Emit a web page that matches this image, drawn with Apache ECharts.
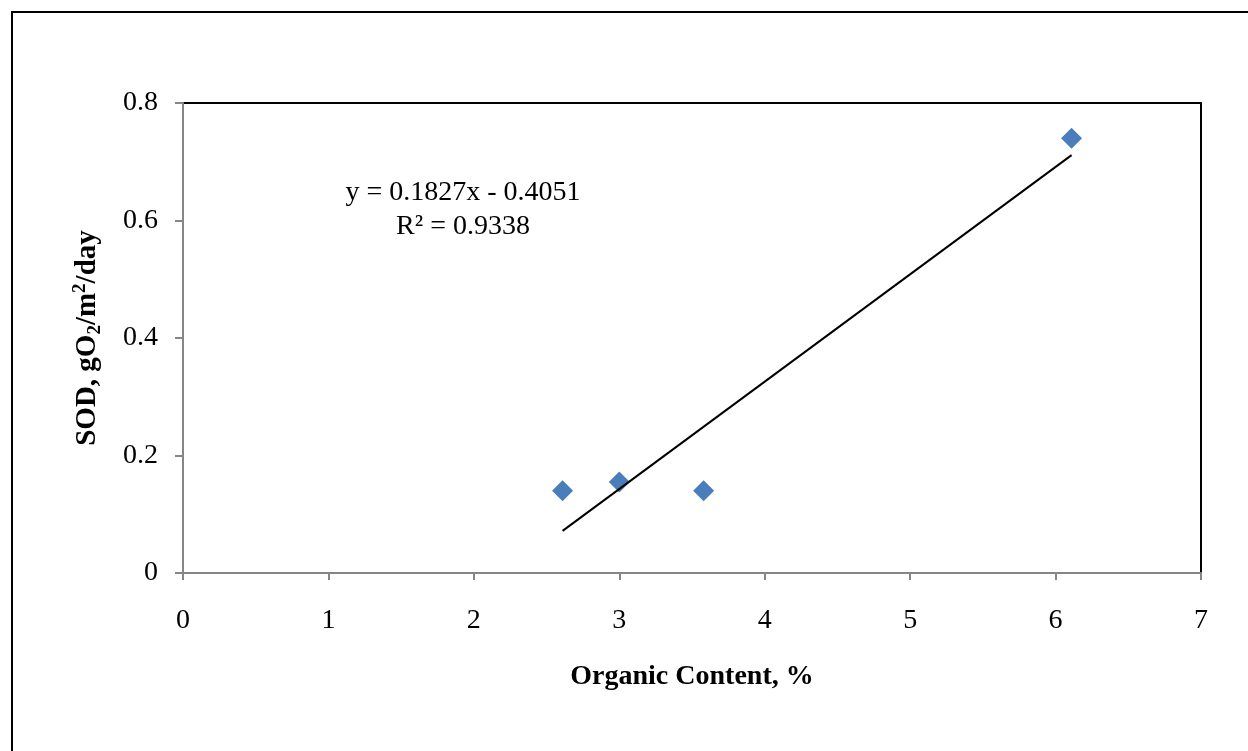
<!DOCTYPE html>
<html>
<head>
<meta charset="utf-8">
<script src="https://cdn.jsdelivr.net/npm/echarts@6/dist/echarts.min.js"></script>
<style>
  html, body { margin: 0; padding: 0; background: #fff; }
  #chart { width: 1248px; height: 751px; }
</style>
</head>
<body>
<div id="chart"></div>
<script>
// measured points
const organicContent = [2.61, 3.0, 3.58, 6.11];
const sodValues = [0.14, 0.155, 0.14, 0.74];
// excel linear trendline
const slope = 0.1827;
const intercept = -0.4051;
const equationText = ['y = 0.1827x - 0.4051', 'R² = 0.9338'];
const xTicks = [0, 7, 1];
const yTicks = [0, 0.8, 0.2];

const xMin = Math.min(...organicContent);
const xMax = Math.max(...organicContent);
const trendData = [
  [xMin, slope * xMin + intercept],
  [xMax, slope * xMax + intercept],
];

const chart = echarts.init(document.getElementById('chart'));
const font = '"Liberation Serif", "Times New Roman", serif';
const axisGray = '#868686';
const fs = 28;

const option = {
  animation: false,
  backgroundColor: '#fff',
  textStyle: { fontFamily: font },
  grid: {
    left: 183,
    right: 47,
    top: 103,
    bottom: 178,
    show: true,
    borderColor: '#000',
    borderWidth: 2,
    backgroundColor: 'transparent',
  },
  graphic: [
    {
      type: 'rect',
      shape: { x: 12, y: 12, width: 1260, height: 760 },
      style: { fill: 'none', stroke: '#000', lineWidth: 2 },
      silent: true,
    },
    {
      type: 'text',
      x: 463,
      y: 193,
      style: {
        text: equationText[0],
        font: fs + 'px ' + font,
        fill: '#000',
        textAlign: 'center',
        textVerticalAlign: 'middle',
      },
    },
    {
      type: 'text',
      x: 463,
      y: 227,
      style: {
        text: equationText[1],
        font: fs + 'px ' + font,
        fill: '#000',
        textAlign: 'center',
        textVerticalAlign: 'middle',
      },
    },
  ],
  xAxis: {
    type: 'value',
    min: xTicks[0],
    max: xTicks[1],
    interval: xTicks[2],
    name: 'Organic Content, %',
    nameLocation: 'middle',
    nameGap: 90,
    nameTextStyle: { fontFamily: font, fontSize: fs, fontWeight: 'bold', color: '#000' },
    axisLine: { show: true, onZero: false, lineStyle: { color: axisGray, width: 2 } },
    axisTick: { show: true, length: 7, lineStyle: { color: axisGray, width: 2 } },
    axisLabel: { color: '#000', fontSize: fs, fontFamily: font, margin: 34 },
    splitLine: { show: false },
  },
  yAxis: {
    type: 'value',
    min: yTicks[0],
    max: yTicks[1],
    interval: yTicks[2],
    name: '{a|SOD, gO}{sub|2}{a|/m}{sup|2}{a|/day}',
    nameLocation: 'middle',
    nameRotate: 90,
    nameGap: 78,
    nameTextStyle: {
      rich: {
        a: { fontFamily: font, fontSize: 29, fontWeight: 'bold', color: '#000', lineHeight: 34 },
        sub: { fontFamily: font, fontSize: 19, fontWeight: 'bold', color: '#000', lineHeight: 16, verticalAlign: 'bottom' },
        sup: { fontFamily: font, fontSize: 19, fontWeight: 'bold', color: '#000', lineHeight: 16, verticalAlign: 'top' },
      },
    },
    axisLine: { show: true, onZero: false, lineStyle: { color: axisGray, width: 2 } },
    axisTick: { show: true, length: 8, lineStyle: { color: axisGray, width: 2 } },
    axisLabel: { color: '#000', fontSize: fs, fontFamily: font, margin: 25 },
    splitLine: { show: false },
  },
  series: [
    {
      name: 'SOD',
      type: 'scatter',
      symbol: 'diamond',
      symbolSize: [21, 21],
      itemStyle: { color: '#4a7ebb', opacity: 1 },
      data: organicContent.map((x, i) => [x, sodValues[i]]),
      z: 3,
    },
    {
      name: 'Linear',
      type: 'line',
      showSymbol: false,
      symbol: 'none',
      lineStyle: { color: '#000', width: 2 },
      data: trendData,
      z: 4,
    },
  ],
};
chart.setOption(option);
</script>
</body>
</html>
